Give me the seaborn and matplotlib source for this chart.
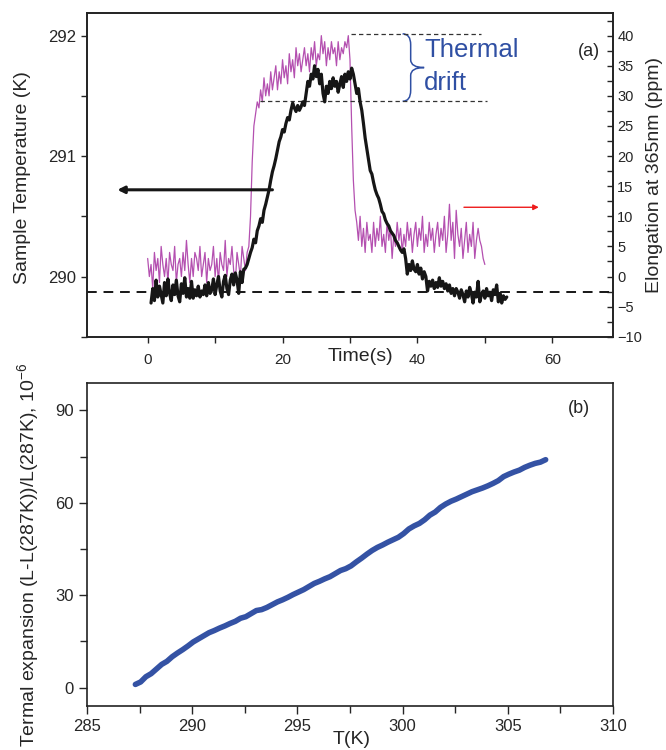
import numpy as np
import pandas as pd
import matplotlib
matplotlib.use("Agg")
import matplotlib.pyplot as plt
import seaborn as sns
from matplotlib.path import Path
from matplotlib.patches import PathPatch
from matplotlib.ticker import MultipleLocator

# ---------------- data ----------------
# panel (a): elongation (ppm), sampled every 0.25 s from t = 0 s
elong_t0, elong_dt = 0.0, 0.25
elong_ppm = [
    3, 0, 2, -2, 4, 1, 3, -1, 5, 2, 0, 3, -1, 4, 2, 1, 5, -1, 2, 3,
    0, 4, 1, 6, 2, -1, 3, 0, 4, 3, 1, 5, 0, 2, 4, -1, 3, 1, 2, 5,
    0, 3, -1, 4, 2, 1, 6, 0, 3, 2, 5, 1, -1, 4, 2, 0, 5, 3, 1, 4,
    5, 10, 19, 25, 27, 29, 28, 31, 29, 33, 30, 32, 30, 34, 31, 33, 35, 31, 34, 32,
    36, 33, 35, 32, 37, 34, 36, 33, 38, 35, 37, 34, 36, 38, 35, 37, 34, 38, 36, 39,
    35, 37, 36, 40, 37, 39, 35, 38, 36, 39, 37, 38, 35, 39, 36, 38, 37, 39, 38, 40,
    36, 25, 16, 11, 9, 6, 10, 5,  8, 4, 9, 6,    7, 4, 9, 5,    8, 6, 10, 5,
    7, 4, 9, 6,    8, 3, 7, 5,    9, 6, 8, 4,    7, 5, 9, 6,    8, 4, 7, 9,
    5, 8, 6, 10,   4, 7, 5, 9,    6, 8, 4, 7,    9, 5, 8, 6,    10, 4, 7, 12,
    6, 9, 3, 11,   7, 5, 8, 3,    6, 9, 4, 7,    5, 9, 3, 6,    8, 6, 5, 3,
    2,
]

# panel (a): sample temperature (K), sampled every 0.25 s from t = 0.5 s
temp_t0, temp_dt = 0.5, 0.25
temp_K = [
    289.78, 289.90, 289.80, 289.97, 289.83, 289.92, 289.85, 289.78,
    289.95, 289.84, 289.98, 289.86, 289.80, 289.93, 289.85, 289.97,
    289.84, 289.79, 289.94, 289.86, 289.99, 289.83, 289.90, 289.82,
    289.96, 289.82, 289.89, 289.84, 289.92, 289.83, 289.88, 289.85,
    289.93, 289.84, 289.95, 289.86, 289.89, 289.98, 289.85, 289.93,
    290.00, 289.88, 289.83, 289.96, 290.01, 289.90, 289.85, 289.97,
    290.02, 289.93, 290.03, 289.97, 289.86, 290.04, 289.95, 290.06,
    290.07, 290.10, 290.15, 290.20, 290.24, 290.31, 290.28, 290.38,
    290.42, 290.48, 290.45, 290.55, 290.60, 290.66, 290.72, 290.80,
    290.87, 290.92, 290.98, 291.05, 291.12, 291.16, 291.22, 291.20,
    291.27, 291.32, 291.30, 291.38, 291.44, 291.40, 291.37, 291.42,
    291.38, 291.41, 291.45, 291.42, 291.52, 291.62, 291.58, 291.68,
    291.64, 291.75, 291.66, 291.72, 291.60, 291.68, 291.52, 291.45,
    291.58, 291.52, 291.62, 291.56, 291.65, 291.58, 291.62, 291.53,
    291.60, 291.66, 291.57, 291.68, 291.62, 291.70, 291.64, 291.73,
    291.68, 291.60, 291.52, 291.56, 291.45, 291.38, 291.27, 291.15,
    291.06, 290.97, 290.88, 290.85, 290.78, 290.72, 290.68, 290.65,
    290.60, 290.54, 290.52, 290.47, 290.44, 290.42, 290.38, 290.36,
    290.34, 290.30, 290.28, 290.25, 290.22, 290.20, 290.23, 290.15,
    290.02, 290.10, 290.05, 290.13, 290.06, 290.04, 290.10, 290.02,
    290.07, 289.98, 290.04, 290.00, 289.88, 289.96, 289.92, 289.97,
    289.90, 289.95, 289.91, 289.99, 289.92, 289.96, 289.90, 289.94,
    289.88, 289.93, 289.86, 289.90, 289.84, 289.90, 289.87, 289.82,
    289.89, 289.85, 289.79, 289.88, 289.83, 289.91, 289.86, 289.78,
    289.87, 289.83, 289.96, 289.79, 289.85, 289.88, 289.82, 289.90,
    289.84, 289.87, 289.80, 289.89, 289.85, 289.93, 289.79, 289.86,
    289.78, 289.84, 289.81, 289.83,
]

# panel (b): thermal expansion (1e-6), sampled every 0.25 K from 287.3 K
exp_T0, exp_dT = 287.3, 0.25
expansion = [
    1.0, 1.8, 3.5, 4.5, 6.0, 7.5, 8.5, 10.0, 11.2, 12.3, 13.5, 14.8, 15.8,
    16.8, 17.8, 18.5, 19.3, 20.0, 20.8, 21.5, 22.5, 23.0, 24.0, 25.0, 25.3,
    26.0, 26.9, 27.8, 28.5, 29.3, 30.2, 31.0, 31.8, 32.8, 33.8, 34.5, 35.3,
    36.0, 37.0, 38.0, 38.6, 39.5, 40.8, 42.0, 43.3, 44.5, 45.5, 46.3, 47.2,
    48.0, 48.8, 50.0, 51.5, 52.5, 53.3, 54.5, 56.0, 57.0, 58.5, 59.6, 60.5,
    61.2, 62.0, 62.8, 63.6, 64.2, 64.8, 65.5, 66.3, 67.2, 68.5, 69.3, 70.0,
    70.6, 71.5, 72.2, 72.8, 73.2, 74.0,
]

# annotation levels
baseline_K = 289.875
drift_top_ppm = 40.3
drift_top_span = (30.2, 49.5)
drift_bot_ppm = 29.1
drift_bot_span = (16.7, 50.3)
brace_x = 39.0
arrow_black = ((18.5, 290.72), (-4.5, 290.72))
arrow_red = ((46.9, 11.5), (58.0, 11.5))

# ---------------- style ----------------
sns.set_style("ticks")
plt.rcParams['font.family'] = ['Liberation Sans', 'DejaVu Sans']
plt.rcParams['mathtext.fontset'] = 'custom'
plt.rcParams['mathtext.rm'] = 'Liberation Sans'
plt.rcParams['mathtext.it'] = 'Liberation Sans:italic'
NARROW = ['Liberation Sans Narrow', 'Liberation Sans']

MAGENTA = '#b450b0'
BLACK = '#161616'
BLUE = '#3452a4'
TXTBLUE = '#2f4fa3'

fig = plt.figure(figsize=(6.66, 7.5), dpi=100)

# ---------------- panel (a) ----------------
ax1 = fig.add_axes([0.1306, 0.551, 0.7898, 0.432])
ax2 = ax1.twinx()
ax1.set_zorder(ax2.get_zorder() + 1)
ax1.patch.set_visible(False)

df_e = pd.DataFrame({'t': elong_t0 + elong_dt * np.arange(len(elong_ppm)), 'v': elong_ppm})
df_T = pd.DataFrame({'t': temp_t0 + temp_dt * np.arange(len(temp_K)), 'v': temp_K})

sns.lineplot(data=df_e, x='t', y='v', ax=ax2, color=MAGENTA, lw=0.9,
             estimator=None, sort=False)
sns.lineplot(data=df_T, x='t', y='v', ax=ax1, color=BLACK, lw=2.3,
             estimator=None, sort=False)

ax1.set_xlim(-9, 69)
ax1.set_ylim(289.5, 292.19)
ax2.set_ylim(-10, 43.8)

ax1.axhline(baseline_K, color=BLACK, lw=1.4, ls=(0, (5, 3.5)), zorder=1)
ax2.hlines(drift_top_ppm, *drift_top_span, color='#333333', lw=0.9, ls=(0, (3.5, 2.5)))
ax2.hlines(drift_bot_ppm, *drift_bot_span, color='#333333', lw=0.9, ls=(0, (3.5, 2.5)))

# curly brace for "Thermal drift"
ymid = 0.5 * (drift_top_ppm + drift_bot_ppm)
verts = [(brace_x - 1.2, drift_top_ppm), (brace_x, drift_top_ppm), (brace_x, drift_top_ppm - 1.8),
         (brace_x, ymid + 1.3),
         (brace_x, ymid), (brace_x + 2.0, ymid),
         (brace_x, ymid), (brace_x, ymid - 1.3),
         (brace_x, drift_bot_ppm + 1.8),
         (brace_x, drift_bot_ppm), (brace_x - 1.2, drift_bot_ppm)]
codes = [Path.MOVETO, Path.CURVE3, Path.CURVE3, Path.LINETO, Path.CURVE3, Path.CURVE3,
         Path.CURVE3, Path.CURVE3, Path.LINETO, Path.CURVE3, Path.CURVE3]
ax2.add_patch(PathPatch(Path(verts, codes), fc='none', ec=TXTBLUE, lw=1.1))
ax2.text(41.1, 37.6, 'Thermal', color=TXTBLUE, fontsize=18.5, va='center', ha='left')
ax2.text(41.0, 32.1, 'drift', color=TXTBLUE, fontsize=18.5, va='center', ha='left')

ax1.annotate('', xy=arrow_black[1], xytext=arrow_black[0],
             arrowprops=dict(arrowstyle='-|>', color=BLACK, lw=2.2,
                             mutation_scale=10, shrinkA=0, shrinkB=0))
ax2.annotate('', xy=arrow_red[1], xytext=arrow_red[0],
             arrowprops=dict(arrowstyle='-|>', color='#ee1c1c', lw=1.0,
                             mutation_scale=8, shrinkA=0, shrinkB=0))

ax1.text(0.954, 0.88, '(a)', transform=ax1.transAxes, fontsize=13, ha='center', va='center')

ax1.xaxis.set_major_locator(MultipleLocator(20))
ax1.xaxis.set_minor_locator(MultipleLocator(10))
ax1.yaxis.set_major_locator(MultipleLocator(1))
ax1.yaxis.set_minor_locator(MultipleLocator(0.5))
ax2.yaxis.set_major_locator(MultipleLocator(5))
ax2.yaxis.set_minor_locator(MultipleLocator(2.5))

ax1.tick_params(axis='x', which='major', direction='out', length=4, width=1.0,
                labelsize=11, pad=8, top=False)
ax1.tick_params(axis='x', which='minor', direction='out', length=4, width=1.0, top=False)
ax1.tick_params(axis='y', which='major', direction='out', length=4, width=1.0,
                labelsize=12, right=False)
ax1.tick_params(axis='y', which='minor', direction='out', length=4, width=1.0, right=False)
for lab in ax1.get_yticklabels():
    lab.set_family(NARROW)
ax2.tick_params(axis='y', which='both', direction='in', length=4, width=1.0,
                labelsize=10.5, pad=3)

ax1.set_xlabel('')
ax1.set_ylabel('')
ax2.set_ylabel('')
for ax in (ax1, ax2):
    for s in ax.spines.values():
        s.set_linewidth(1.2)
        s.set_color('#222222')

# ---------------- panel (b) ----------------
ax3 = fig.add_axes([0.1306, 0.0587, 0.7898, 0.431])
df_b = pd.DataFrame({'T': exp_T0 + exp_dT * np.arange(len(expansion)), 'v': expansion})
sns.lineplot(data=df_b, x='T', y='v', ax=ax3, color=BLUE, lw=4.0,
             estimator=None, sort=False)
ax3.set_xlim(285, 310)
ax3.set_ylim(-6, 99)
ax3.xaxis.set_major_locator(MultipleLocator(5))
ax3.xaxis.set_minor_locator(MultipleLocator(2.5))
ax3.yaxis.set_major_locator(MultipleLocator(30))
ax3.yaxis.set_minor_locator(MultipleLocator(15))
ax3.tick_params(axis='both', which='major', direction='out', length=6, width=1.0,
                labelsize=12, top=False, right=False)
ax3.tick_params(axis='both', which='minor', direction='out', length=5, width=1.0,
                top=False, right=False)
ax3.set_xlabel('')
ax3.set_ylabel('')
for s in ax3.spines.values():
    s.set_linewidth(1.2)
    s.set_color('#222222')
ax3.text(0.935, 0.92, '(b)', transform=ax3.transAxes, fontsize=13, ha='center', va='center')

# ---------------- axis titles ----------------
fig.text(0.034, 0.763, 'Sample Temperature (K)', rotation=90, fontsize=14,
         ha='center', va='center')
fig.text(0.982, 0.767, 'Elongation at 365nm (ppm)', rotation=90, fontsize=14,
         ha='center', va='center')
fig.text(0.5405, 0.525, 'Time(s)', fontsize=14, ha='center', va='center')
fig.text(0.5285, 0.0135, 'T(K)', fontsize=14, ha='center', va='center')
fig.text(0.042, 0.26, 'Termal expansion (L-L(287K))/L(287K), 10$^{-6}$', rotation=90,
         fontsize=14, ha='center', va='center')

fig.savefig('out.png', dpi=100)
